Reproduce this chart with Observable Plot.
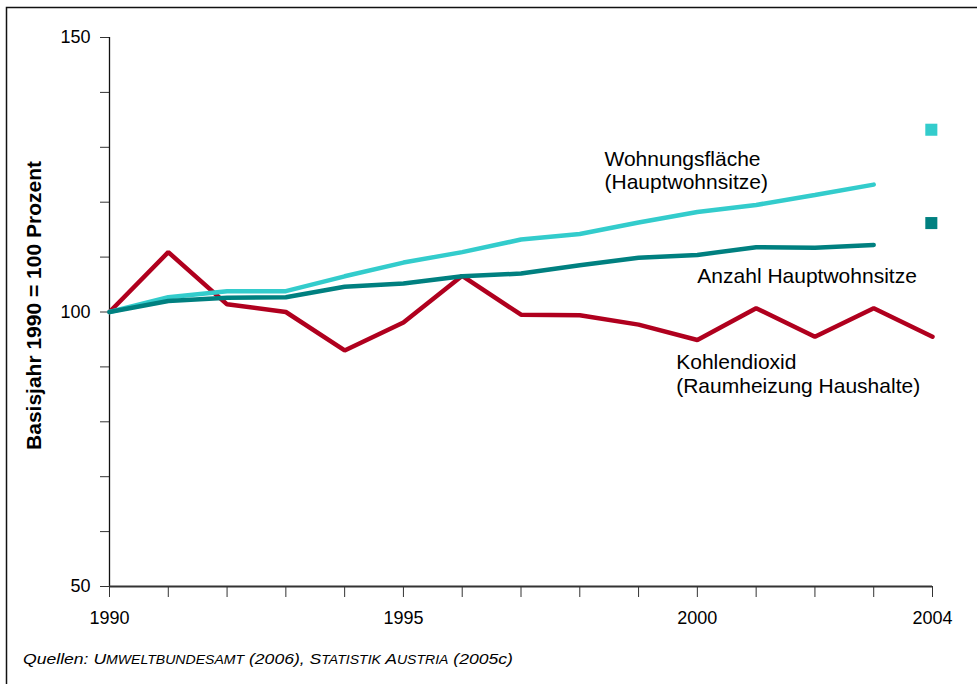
<!DOCTYPE html>
<html><head><meta charset="utf-8">
<script src="https://cdn.jsdelivr.net/npm/d3@7"></script>
<script src="https://cdn.jsdelivr.net/npm/@observablehq/plot@0.6"></script>
<style>
body{margin:0;background:#fff;}
#chart svg{display:block;}
</style></head><body><div id="chart"></div>
<script>
const years = [1990,1991,1992,1993,1994,1995,1996,1997,1998,1999,2000,2001,2002,2003,2004];
const kohlendioxid = [100,110.9,101.4,100,93.0,98.1,106.6,99.5,99.4,97.7,94.9,100.7,95.5,100.7,95.5];
const wohnungsflaeche = [100,102.7,103.8,103.8,106.5,109.0,110.9,113.2,114.2,116.3,118.2,119.5,121.3,123.2];
const hauptwohnsitze = [100,102.0,102.6,102.7,104.6,105.2,106.5,107.0,108.5,109.9,110.4,111.8,111.7,112.2];
const yTicks = [50,60,70,80,90,100,110,120,130,140,150];
const yTickLabels = [50,100,150];
const xTickLabels = [1990,1995,2000,2004];
const labelFlaeche = "Wohnungsfläche\n(Hauptwohnsitze)";
const labelAnzahl = "Anzahl Hauptwohnsitze";
const labelCO2 = "Kohlendioxid\n(Raumheizung Haushalte)";
const yTitle = "Basisjahr 1990 = 100 Prozent";
// caption pieces: [text, smallCaps]
const captionParts = [["Quellen: ", false], ["U", false], ["MWELTBUNDESAMT", true], [" (2006), ", false], ["S", false], ["TATISTIK", true], [" A", false], ["USTRIA", true], [" (2005c)", false]];

const colCO2 = "#b0001e", colFl = "#33cccc", colHw = "#008080";

const co2Data = years.map((y,i)=>({year:y, v:kohlendioxid[i]}));
const flData = wohnungsflaeche.map((v,i)=>({year:years[i], v}));
const hwData = hauptwohnsitze.map((v,i)=>({year:years[i], v}));

const font = "'Liberation Sans', Arial, Helvetica, sans-serif";

const plot = Plot.plot({
  width: 977, height: 684,
  marginLeft: 109, marginRight: 45, marginTop: 37, marginBottom: 98,
  x: {domain: [1990, 2004]},
  y: {domain: [50, 150]},
  style: {fontFamily: font, background: "#fff", overflow: "visible", color: "#000"},
  marks: [
    Plot.axisY({ticks: yTicks, tickFormat: d => yTickLabels.includes(d) ? String(d) : "", tickSize: 9, tickPadding: 10, fontSize: 18, stroke: "#333", fill: "#000", label: null}),
    Plot.axisX({ticks: years, tickFormat: d => xTickLabels.includes(d) ? String(d) : "", tickSize: 11, tickPadding: 14, fontSize: 18, stroke: "#333", fill: "#000", label: null}),
    Plot.ruleX([1990], {stroke: "#111", strokeWidth: 1.3}),
    Plot.ruleY([50], {stroke: "#333", strokeWidth: 2}),
    Plot.line(co2Data, {x: "year", y: "v", stroke: colCO2, strokeWidth: 4.5, strokeLinejoin: "miter"}),
    Plot.line(flData, {x: "year", y: "v", stroke: colFl, strokeWidth: 4.5, strokeLinejoin: "miter"}),
    Plot.line(hwData, {x: "year", y: "v", stroke: colHw, strokeWidth: 4.5, strokeLinejoin: "miter"}),
    Plot.text([labelFlaeche], {x: 1998.42, y: 122.4, textAnchor: "start", lineAnchor: "bottom", fontSize: 21, lineHeight: 1.12, fill: "#000"}),
    Plot.text([labelAnzahl], {x: 2000.0, y: 105.35, textAnchor: "start", lineAnchor: "bottom", fontSize: 21, fill: "#000"}),
    Plot.text([labelCO2], {x: 1999.64, y: 85.3, textAnchor: "start", lineAnchor: "bottom", fontSize: 21, lineHeight: 1.12, fill: "#000"}),
    Plot.dot([colFl], {x: 2003.98, y: 133.2, symbol: "square", r: 6.8, fill: d => d, stroke: null}),
    Plot.dot([colHw], {x: 2003.98, y: 116.2, symbol: "square", r: 6.8, fill: d => d, stroke: null}),
    Plot.text([yTitle], {frameAnchor: "left", dx: -75, dy: -6.5, rotate: -90, fontWeight: "bold", fontSize: 21, textAnchor: "middle", lineAnchor: "middle", fill: "#000"})
  ]
});
document.getElementById("chart").appendChild(plot);

const svg = d3.select(plot);
// frame lines (top and left)
svg.append("path").attr("d", "M6.5,684V7.5H977").attr("fill", "none").attr("stroke", "#111").attr("stroke-width", 1.5);
// caption
const cap = svg.append("text").attr("x", 23).attr("y", 664).attr("font-size", 15.5).attr("font-style", "italic")
  .attr("text-anchor", "start").attr("fill", "#000").attr("font-family", font)
  .attr("textLength", 490).attr("lengthAdjust", "spacingAndGlyphs");
captionParts.forEach(([t, sc]) => {
  const ts = cap.append("tspan").text(t);
  if (sc) ts.attr("font-size", 12.4);
});
</script></body></html>
